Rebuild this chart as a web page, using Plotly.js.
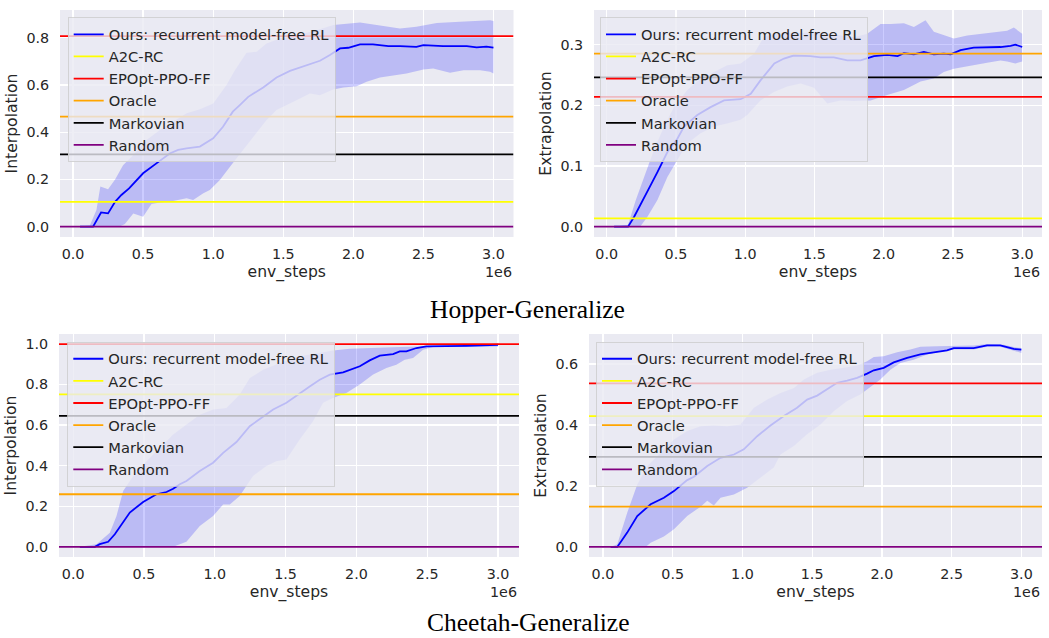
<!DOCTYPE html>
<html>
<head>
<meta charset="utf-8">
<script src="https://cdn.plot.ly/plotly-3.0.1.min.js"></script>
<style>html,body{margin:0;padding:0;background:#fff;}#chart{width:1049px;height:638px;}</style>
</head>
<body>
<div id="chart"></div>
<script>
// ---------- data (x in units of 1e6 env steps) ----------
const baselineNames = ["A2C-RC", "EPOpt-PPO-FF", "Oracle", "Markovian", "Random"];
const oursName = "Ours: recurrent model-free RL";

// Hopper - Interpolation
const hiMeanX = [0.05,0.143,0.2,0.25,0.3,0.345,0.4,0.5,0.595,0.69,0.75,0.81,0.905,1.0,1.07,1.14,1.19,1.25,1.357,1.452,1.548,1.643,1.762,1.833,1.905,1.964,2.048,2.14,2.25,2.333,2.45,2.5,2.64,2.81,2.88,2.95,3.0];
const hiMean  = [0,0,0.06,0.056,0.105,0.134,0.162,0.226,0.268,0.31,0.325,0.332,0.339,0.374,0.423,0.487,0.515,0.55,0.59,0.632,0.66,0.68,0.703,0.727,0.755,0.758,0.772,0.772,0.765,0.765,0.762,0.769,0.765,0.765,0.76,0.763,0.759];
const hiUpX = [0.05,0.12,0.167,0.195,0.25,0.3,0.357,0.43,0.524,0.62,0.714,0.81,0.905,1.0,1.095,1.155,1.238,1.31,1.38,1.476,1.595,1.738,1.857,1.93,2.048,2.167,2.238,2.333,2.45,2.52,2.595,2.76,2.905,2.976,3.0];
const hiUp  = [0,0.005,0.07,0.17,0.158,0.2,0.26,0.303,0.367,0.409,0.444,0.48,0.497,0.522,0.6,0.663,0.737,0.741,0.776,0.797,0.811,0.832,0.854,0.858,0.865,0.854,0.847,0.84,0.847,0.854,0.863,0.868,0.871,0.875,0.871];
const hiLoX = [0.05,0.333,0.37,0.43,0.464,0.5,0.56,0.62,0.714,0.81,0.857,0.93,0.976,1.048,1.12,1.19,1.286,1.38,1.452,1.524,1.62,1.69,1.762,1.857,1.93,2.024,2.095,2.19,2.286,2.38,2.5,2.57,2.69,2.786,2.905,2.976,3.0];
const hiLo  = [0,0,0.011,0.056,0.049,0.042,0.096,0.102,0.109,0.12,0.113,0.141,0.155,0.198,0.254,0.31,0.381,0.451,0.494,0.515,0.543,0.564,0.557,0.581,0.59,0.595,0.614,0.632,0.642,0.649,0.666,0.67,0.652,0.663,0.663,0.656,0.649];
const hiBase = [0.105, 0.807, 0.466, 0.306, 0];

// Hopper - Extrapolation
const heMeanX = [0.053,0.154,0.197,0.25,0.305,0.366,0.438,0.51,0.558,0.654,0.75,0.847,0.967,1.04,1.11,1.21,1.28,1.35,1.47,1.544,1.64,1.737,1.833,1.93,2.025,2.1,2.146,2.218,2.29,2.362,2.434,2.483,2.555,2.65,2.747,2.843,2.916,2.95,3.0];
const heMean  = [0,0,0.016,0.038,0.063,0.09,0.123,0.145,0.165,0.184,0.197,0.208,0.21,0.219,0.241,0.269,0.277,0.282,0.281,0.279,0.279,0.274,0.274,0.281,0.283,0.281,0.286,0.284,0.288,0.284,0.285,0.284,0.291,0.295,0.295,0.296,0.298,0.3,0.296];
const heUpX = [0.053,0.154,0.21,0.27,0.34,0.414,0.486,0.582,0.678,0.775,0.87,0.967,1.063,1.135,1.208,1.304,1.4,1.496,1.592,1.689,1.785,1.881,1.977,2.05,2.146,2.218,2.302,2.362,2.434,2.507,2.603,2.699,2.795,2.891,2.94,3.0];
const heUp  = [0,0.003,0.044,0.082,0.126,0.165,0.197,0.225,0.244,0.255,0.266,0.269,0.285,0.313,0.318,0.319,0.319,0.321,0.318,0.314,0.312,0.318,0.334,0.334,0.335,0.329,0.34,0.321,0.315,0.31,0.315,0.318,0.321,0.323,0.328,0.318];
const heLoX = [0.053,0.245,0.293,0.366,0.438,0.51,0.582,0.678,0.775,0.87,0.967,1.015,1.11,1.208,1.304,1.4,1.496,1.592,1.689,1.785,1.905,2.025,2.146,2.266,2.362,2.434,2.507,2.603,2.747,2.843,2.891,2.95,3.0];
const heLo  = [0,0.001,0.016,0.044,0.082,0.11,0.137,0.154,0.165,0.17,0.176,0.184,0.208,0.222,0.231,0.236,0.229,0.203,0.208,0.207,0.208,0.217,0.225,0.239,0.244,0.255,0.26,0.264,0.27,0.274,0.272,0.269,0.272];
const heBase = [0.0137, 0.214, 0.285, 0.246, 0];

// Cheetah - Interpolation
const ciMeanX = [0.047,0.153,0.188,0.247,0.294,0.341,0.4,0.494,0.588,0.659,0.706,0.753,0.8,0.894,0.988,1.059,1.153,1.247,1.341,1.412,1.506,1.6,1.67,1.741,1.812,1.906,2.024,2.094,2.165,2.259,2.306,2.353,2.424,2.494,2.541,2.776,3.0];
const ciMean  = [0,0,0.013,0.025,0.062,0.111,0.169,0.221,0.259,0.27,0.286,0.308,0.324,0.373,0.414,0.463,0.516,0.594,0.643,0.676,0.709,0.758,0.79,0.823,0.848,0.859,0.889,0.918,0.941,0.949,0.962,0.962,0.979,0.987,0.987,0.99,0.995];
const ciUpX = [0.047,0.165,0.259,0.306,0.353,0.424,0.518,0.612,0.706,0.8,0.894,0.988,1.082,1.176,1.247,1.341,1.459,1.6,1.718,1.835,1.953,2.071,2.306,2.447,2.541,3.0];
const ciUp  = [0,0.013,0.07,0.152,0.275,0.349,0.422,0.488,0.553,0.602,0.651,0.676,0.684,0.75,0.831,0.872,0.905,0.938,0.954,0.967,0.975,0.979,0.984,0.987,0.99,0.998];
const ciLoX = [0.047,0.706,0.753,0.8,0.894,0.988,1.059,1.106,1.176,1.27,1.365,1.435,1.506,1.6,1.694,1.765,1.835,1.929,2.024,2.118,2.212,2.282,2.341,2.4,2.471,2.541,2.776,3.0];
const ciLo  = [0,0,0.013,0.025,0.103,0.152,0.209,0.209,0.25,0.349,0.398,0.422,0.43,0.529,0.619,0.709,0.733,0.758,0.799,0.848,0.881,0.897,0.921,0.93,0.971,0.984,0.984,0.987];
const ciBase = [0.751, 0.998, 0.259, 0.645, 0];

// Cheetah - Extrapolation
const ceMeanX = [0.055,0.103,0.174,0.246,0.342,0.437,0.509,0.604,0.652,0.748,0.843,0.939,1.01,1.106,1.201,1.297,1.392,1.464,1.536,1.607,1.679,1.751,1.822,1.894,1.942,2.013,2.085,2.181,2.276,2.372,2.467,2.515,2.658,2.754,2.849,2.945,3.0];
const ceMean  = [0,0,0.047,0.101,0.14,0.161,0.183,0.219,0.23,0.265,0.292,0.303,0.32,0.363,0.398,0.429,0.456,0.483,0.496,0.516,0.538,0.545,0.554,0.568,0.579,0.587,0.605,0.62,0.631,0.638,0.644,0.652,0.652,0.661,0.661,0.649,0.647];
const ceUpX = [0.055,0.103,0.174,0.246,0.318,0.413,0.509,0.604,0.7,0.795,0.891,0.986,1.082,1.177,1.273,1.369,1.44,1.536,1.631,1.727,1.822,1.894,1.942,2.013,2.109,2.204,2.276,2.396,2.515,2.658,2.754,2.873,2.945,3.0];
const ceUp  = [0,0.009,0.112,0.205,0.265,0.309,0.352,0.38,0.396,0.398,0.396,0.401,0.456,0.483,0.505,0.521,0.549,0.571,0.581,0.587,0.595,0.609,0.623,0.625,0.638,0.647,0.656,0.658,0.66,0.66,0.665,0.663,0.655,0.652];
const ceLoX = [0.055,0.306,0.342,0.437,0.509,0.604,0.7,0.748,0.795,0.843,0.939,1.034,1.13,1.225,1.273,1.369,1.464,1.56,1.655,1.751,1.846,1.942,1.989,2.061,2.133,2.228,2.324,2.42,2.515,2.658,2.754,2.849,2.945,3.0];
const ceLo  = [0,0,0.014,0.034,0.058,0.101,0.132,0.151,0.136,0.161,0.172,0.194,0.227,0.26,0.303,0.331,0.369,0.401,0.445,0.478,0.5,0.532,0.549,0.581,0.603,0.614,0.631,0.641,0.647,0.647,0.656,0.656,0.644,0.636];
const ceBase = [0.429, 0.536, 0.132, 0.295, 0];

// ---------- styling ----------
const baseColors = ["#ffff00", "#ff0000", "#ffa500", "#000000", "#800080"];
const oursColor = "#0000ff";
const bandColor = "rgba(0,0,255,0.2)";
const textColor = "#262626";
const W = 1049, H = 638;

const panels = [
  {mx: hiMeanX, my: hiMean, ux: hiUpX, uy: hiUp, lx: hiLoX, ly: hiLo, base: hiBase,
   xr: [-0.093, 3.143], yr: [-0.044, 0.918], dtick: 0.2, ylab: "Interpolation",
   px: [60, 513.5], py: [10, 237], leg: [67.7, 17.3]},
  {mx: heMeanX, my: heMean, ux: heUpX, uy: heUp, lx: heLoX, ly: heLo, base: heBase,
   xr: [-0.092, 3.143], yr: [-0.017, 0.357], dtick: 0.1, ylab: "Extrapolation",
   px: [594, 1042], py: [10, 237], leg: [600, 17.3]},
  {mx: ciMeanX, my: ciMean, ux: ciUpX, uy: ciUp, lx: ciLoX, ly: ciLo, base: ciBase,
   xr: [-0.1, 3.148], yr: [-0.05, 1.048], dtick: 0.2, ylab: "Interpolation",
   px: [59, 519], py: [334, 557], leg: [67.3, 341.7]},
  {mx: ceMeanX, my: ceMean, ux: ceUpX, uy: ceUp, lx: ceLoX, ly: ceLo, base: ceBase,
   xr: [-0.1, 3.148], yr: [-0.033, 0.698], dtick: 0.2, ylab: "Extrapolation",
   px: [589, 1042], py: [334, 557], leg: [596, 341.7]}
];

const traces = [];
const layout = {
  width: W, height: H,
  margin: {l: 0, r: 0, t: 0, b: 0},
  paper_bgcolor: "#ffffff",
  plot_bgcolor: "#eaeaf2",
  font: {family: "DejaVu Sans, sans-serif", size: 14.3, color: textColor},
  showlegend: true,
  annotations: []
};

panels.forEach((p, i) => {
  const n = i + 1;
  const sfx = n === 1 ? "" : String(n);
  const xa = "x" + sfx, ya = "y" + sfx;
  const legName = "legend" + sfx;
  // band
  traces.push({
    type: "scatter", mode: "lines", xaxis: xa, yaxis: ya,
    x: p.ux.concat(p.lx.slice().reverse()),
    y: p.uy.concat(p.ly.slice().reverse()),
    fill: "toself", fillcolor: bandColor, line: {width: 0, color: "rgba(0,0,0,0)"},
    showlegend: false, hoverinfo: "skip"
  });
  // mean
  traces.push({
    type: "scatter", mode: "lines", xaxis: xa, yaxis: ya, legend: legName,
    x: p.mx, y: p.my, name: oursName, line: {color: oursColor, width: 1.8}
  });
  // baselines (horizontal lines across full axis)
  p.base.forEach((v, k) => {
    traces.push({
      type: "scatter", mode: "lines", xaxis: xa, yaxis: ya, legend: legName,
      x: p.xr, y: [v, v], name: baselineNames[k],
      line: {color: baseColors[k], width: 1.8}
    });
  });

  const xdom = [p.px[0] / W, p.px[1] / W];
  const ydom = [1 - p.py[1] / H, 1 - p.py[0] / H];
  layout["xaxis" + sfx] = {
    domain: xdom, anchor: ya, range: p.xr, dtick: 0.5, tick0: 0, tickformat: ".1f",
    showgrid: true, gridcolor: "#ffffff", gridwidth: 1.3, zeroline: false, showline: false,
    ticks: "outside", ticklen: 4, tickcolor: "rgba(0,0,0,0)",
    tickfont: {size: 14.3, color: textColor},
    title: {text: "env_steps", font: {size: 15.6, color: textColor}, standoff: 4}
  };
  layout["yaxis" + sfx] = {
    domain: ydom, anchor: xa, range: p.yr, dtick: p.dtick, tick0: 0, tickformat: ".1f",
    showgrid: true, gridcolor: "#ffffff", gridwidth: 1.3, zeroline: false, showline: false,
    ticks: "outside", ticklen: 7, tickcolor: "rgba(0,0,0,0)",
    tickfont: {size: 14.3, color: textColor},
    title: {text: p.ylab, font: {size: 15.6, color: textColor}, standoff: 4}
  };
  layout[legName] = {
    x: p.leg[0] / W, y: 1 - p.leg[1] / H, xanchor: "left", yanchor: "top",
    xref: "paper", yref: "paper",
    bgcolor: "rgba(234,234,242,0.8)", bordercolor: "rgba(204,204,204,0.8)", borderwidth: 1,
    font: {size: 14.7, color: textColor}, tracegroupgap: 0
  };
  layout.annotations.push({
    xref: "paper", yref: "paper", x: p.px[1] / W, y: 1 - (p.py[1] + 35) / H,
    xanchor: "right", yanchor: "middle", text: "1e6", showarrow: false,
    font: {size: 14.3, color: textColor}
  });
});

// figure captions (bottom edge of text box in px from top)
const captions = ["Hopper-Generalize", "Cheetah-Generalize"];
const captionBottom = [325, 638];
captions.forEach((c, i) => {
  layout.annotations.push({
    xref: "paper", yref: "paper", x: 527.5 / W, y: 1 - captionBottom[i] / H,
    xanchor: "center", yanchor: "bottom", text: c, showarrow: false,
    borderpad: 0,
    font: {family: "Liberation Serif, Times New Roman, serif", size: 25.5, color: "#000000"}
  });
});

Plotly.newPlot("chart", traces, layout, {staticPlot: true, displayModeBar: false});
</script>
</body>
</html>
